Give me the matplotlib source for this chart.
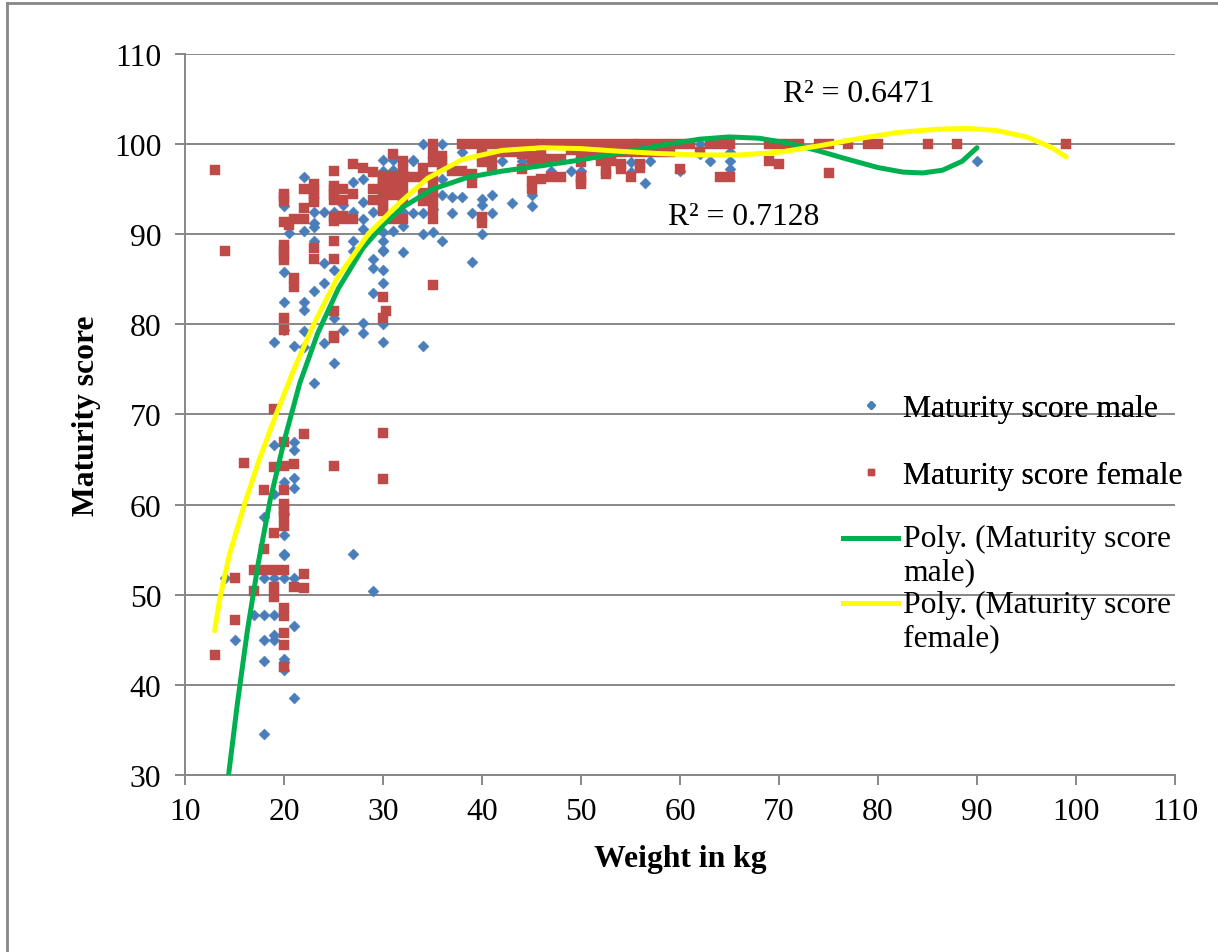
import numpy as np
import matplotlib
matplotlib.use("Agg")
import matplotlib.pyplot as plt
from matplotlib.lines import Line2D
from matplotlib.legend_handler import HandlerLine2D

plt.rcParams['font.family'] = ['Liberation Serif', 'DejaVu Serif']

# Maturity score male (weight kg, score)
male_x = [23, 19, 19, 19, 19, 19, 19, 21, 21, 21, 21, 21, 21, 21, 20, 20, 20, 20, 20, 20, 20, 20, 20,
          18, 18, 18, 18, 18, 18, 14, 15, 17, 27, 29,
          19, 20, 20, 20, 20, 20.5, 21, 22, 22, 22, 22, 22, 22, 23, 23, 23, 23, 23, 24, 24, 24, 24,
          25, 25, 25, 25, 26, 26, 27, 27, 27, 27, 28, 28, 28, 28, 28, 28, 29, 29, 29, 29,
          30, 30, 30, 30, 30, 30, 30, 30, 30, 30, 31, 31, 31, 32, 32, 33, 34,
          32, 32, 33, 33, 34, 34, 34, 35, 35, 36, 36, 36, 36, 37, 37, 38, 38, 39, 39, 40, 40, 40,
          41, 41, 42, 43, 44, 45, 45, 47, 49, 50, 55, 55, 56.5, 57, 60, 62, 62, 63, 65, 65, 65, 90]
male_y = [73.5, 66.6, 61.2, 51.9, 47.7, 45.5, 45.0, 67.0, 66.1, 63.0, 61.9, 51.9, 46.5, 38.5,
          62.5, 59.0, 56.6, 54.5, 54.4, 51.9, 42.9, 42.5, 41.6,
          58.6, 51.9, 47.7, 45.0, 42.6, 34.6, 51.9, 45.0, 47.7, 54.5, 50.4,
          78.0, 93.1, 85.8, 82.5, 79.4, 90.1, 77.6, 96.4, 90.4, 82.5, 81.6, 79.3, 77.5,
          92.5, 91.2, 90.8, 89.3, 83.7, 92.5, 86.8, 84.6, 77.9, 92.5, 86.0, 80.7, 75.7, 93.2, 79.4,
          95.8, 92.5, 89.3, 88.1, 96.1, 93.6, 91.7, 90.6, 80.1, 79.0, 92.5, 87.2, 86.2, 83.5,
          98.2, 97.0, 90.3, 89.2, 88.2, 88.1, 86.0, 84.6, 80.0, 78.0, 98.2, 97.1, 90.4, 88.0, 92.5,
          98.2, 77.6,
          96.9, 90.9, 98.1, 92.4, 100.0, 92.4, 90.0, 92.8, 90.2, 100.0, 96.1, 94.4, 89.3, 94.1, 92.4,
          99.1, 94.1, 92.4, 86.9, 93.9, 93.3, 90.0, 94.3, 92.4, 98.1, 93.5, 98.1, 94.3, 93.1, 97.0,
          97.0, 97.0, 98.0, 96.9, 95.7, 98.1, 97.0, 100.0, 98.9, 98.1, 99.1, 98.1, 97.2, 98.1]

# Maturity score female (weight kg, score)
female_x = [19, 22, 30, 30, 20, 20, 20, 20, 20, 20, 20, 20, 20, 20, 20, 20, 20, 20,
            16, 19, 19, 19, 19, 19, 21, 21, 18, 18, 18, 17, 17, 15, 15, 13, 22, 22, 25,
            13, 14, 20, 20, 20, 20, 20.5, 20, 20, 20, 20, 20, 20, 21, 21, 21, 22, 22, 22,
            23, 23, 23, 23, 23, 23, 23, 25, 25, 25, 25, 25, 25, 25, 25, 25, 25, 25, 25,
            26, 26, 26, 26, 27, 27, 27, 28, 29, 29, 29,
            30, 30, 30, 30, 30, 30, 30, 30, 30, 30, 30.3, 30, 31, 31, 31, 31, 31, 31, 31,
            32, 32, 32, 32, 32, 32, 32, 33, 34, 34, 34, 34,
            35, 35, 35, 35, 35, 35, 35, 35, 35, 35, 36, 36, 36, 37, 38, 38, 39, 39, 39,
            40, 40, 40, 40, 40, 40, 41, 41, 41, 42, 42, 43, 43, 44, 44, 44,
            45, 45, 45, 45, 45, 46, 46, 46, 46, 46, 47, 47, 47, 48, 48, 48, 49, 49,
            50, 50, 50, 50, 50, 50, 50, 51, 51, 52, 52, 52, 52, 52.5, 52.5, 53, 53, 53, 53,
            54, 54, 54, 54, 55, 55, 55, 56, 56, 56, 56, 57, 57, 58, 58, 59, 59, 60, 60, 61, 62,
            63, 64, 64, 65, 65, 69, 69, 70, 70, 71, 72, 74, 75, 75, 77, 79, 80, 85, 88, 99]
female_y = [70.6, 67.8, 68.0, 62.8, 67.0, 64.3, 61.6, 60.1, 59.5, 59.2, 58.6, 57.6, 52.7, 48.5,
            47.6, 45.8, 44.4, 42.0, 64.6, 64.2, 56.9, 52.7, 50.9, 49.7, 64.5, 50.9, 61.6, 55.1,
            52.7, 52.7, 50.4, 51.9, 47.2, 43.3, 52.3, 50.7, 64.3,
            97.1, 88.1, 94.5, 94.1, 93.7, 91.4, 91.0, 88.8, 88.2, 87.7, 87.1, 80.7, 79.4,
            91.7, 85.1, 84.1, 95.0, 92.9, 91.7,
            95.6, 95.0, 94.5, 93.9, 93.6, 88.5, 87.2,
            97.0, 95.4, 94.9, 94.3, 93.8, 91.9, 91.5, 89.3, 87.2, 81.5, 78.7, 78.5,
            95.0, 93.8, 92.0, 91.7, 97.8, 94.5, 91.7, 97.4, 96.9, 95.0, 93.8,
            96.5, 96.1, 95.8, 95.2, 94.7, 94.3, 93.8, 93.2, 92.6, 83.0, 81.5, 80.7,
            98.9, 96.5, 96.1, 95.2, 94.7, 94.3, 91.7,
            98.1, 97.2, 96.3, 95.7, 94.6, 93.7, 91.7, 96.3, 97.4, 96.3, 94.6, 93.7,
            100.0, 98.9, 98.0, 96.3, 95.6, 94.7, 93.8, 92.8, 91.7, 84.4, 98.7, 98.1, 97.6, 97.0,
            100.0, 97.0, 100.0, 96.7, 95.7,
            100.0, 99.4, 98.7, 98.0, 91.9, 91.3, 100.0, 98.7, 97.6, 100.0, 99.1, 100.0, 99.1,
            100.0, 98.9, 97.2,
            100.0, 98.7, 98.0, 95.9, 95.0, 100.0, 99.1, 98.5, 98.0, 96.1, 100.0, 98.3, 96.3,
            100.0, 98.3, 96.3, 100.0, 99.4,
            100.0, 99.4, 98.7, 98.0, 96.3, 95.9, 95.6, 100.0, 99.1, 100.0, 99.1, 98.7, 98.1,
            97.0, 96.7, 100.0, 99.1, 98.7, 98.1,
            100.0, 99.1, 97.8, 97.2, 100.0, 99.1, 96.3, 100.0, 99.1, 97.8, 97.4, 100.0, 99.1,
            100.0, 99.1, 100.0, 99.1, 100.0, 97.2, 100.0, 99.1,
            100.0, 100.0, 96.3, 100.0, 96.3, 100.0, 98.1, 100.0, 97.8, 100.0, 100.0, 100.0,
            100.0, 96.8, 100.0, 100.0, 100.0, 100.0, 100.0, 100.0]

# polynomial trendlines (Excel "Poly.")
poly_male_x = [14.4, 15.3, 16.3, 17.4, 18.6, 20.0, 21.6, 23.4, 25.5, 28.0, 30.0, 32.0, 35.0,
               38.5, 42.0, 46.0, 50.0, 55.0, 58.5, 62.0, 65.0, 68.0, 71.0, 74.0, 77.0, 80.0,
               82.5, 84.5, 86.5, 88.5, 90.0]
poly_male_y = [30.0, 38.0, 46.0, 53.5, 60.5, 67.0, 73.5, 79.0, 84.0, 88.5, 91.0, 93.0, 95.0,
               96.3, 97.0, 97.6, 98.25, 99.25, 99.95, 100.55, 100.8, 100.65, 100.1, 99.25,
               98.3, 97.4, 96.9, 96.8, 97.1, 98.1, 99.6]
poly_female_x = [13.0, 13.5, 14.5, 16.0, 17.5, 19.2, 21.0, 23.0, 25.3, 28.5, 31.5, 34.5, 38.0,
                 42.0, 46.0, 50.0, 54.0, 58.0, 62.0, 66.0, 70.0, 74.0, 78.0, 82.0, 86.0, 89.0,
                 92.0, 95.0, 97.4, 99.0]
poly_female_y = [46.0, 49.5, 54.5, 60.0, 65.0, 70.0, 75.0, 80.0, 85.0, 90.0, 93.3, 96.2, 98.3,
                 99.3, 99.6, 99.5, 99.2, 98.95, 98.8, 98.8, 99.1, 99.8, 100.6, 101.3, 101.65,
                 101.75, 101.5, 100.8, 99.7, 98.6]

r2_male = 0.7128
r2_female = 0.6471

blue = '#4A7EBB'
red = '#BE4B48'
green = '#00B050'
yellow = '#FFFF00'
grey = '#878787'
fs = 22.8


class HandlerFirstLine(HandlerLine2D):
    # put the line sample next to the first line of a two-line label
    def create_artists(self, legend, orig_handle, xdescent, ydescent, width, height,
                       fontsize, trans):
        arts = super().create_artists(legend, orig_handle, xdescent, ydescent, width, height,
                                      fontsize, trans)
        for a in arts:
            a.set_ydata(np.asarray(a.get_ydata()) + 0.55 * fontsize)
        return arts


fig = plt.figure(figsize=(12.18, 9.53), dpi=100)
ax = fig.add_axes([185 / 1218, 1 - 776 / 953, 990 / 1218, 721 / 953])

ax.scatter(male_x, male_y, marker='D', s=32, color=blue, edgecolors=blue, linewidths=0.3, zorder=3)
ax.scatter(female_x, female_y, marker='s', s=42, color=red, edgecolors=red, linewidths=0.3, zorder=4)
ax.plot(poly_male_x, poly_male_y, color=green, lw=3.6, solid_capstyle='round',
        solid_joinstyle='round', zorder=5)
ax.plot(poly_female_x, poly_female_y, color=yellow, lw=3.6, solid_capstyle='round',
        solid_joinstyle='round', zorder=6)

ax.text(58.8, 92.0, f'R\u00b2 = {r2_male:.4f}', fontsize=fs, va='center', ha='left')
ax.text(70.4, 105.6, f'R\u00b2 = {r2_female:.4f}', fontsize=fs, va='center', ha='left')

ax.set_xlim(10, 110)
ax.set_ylim(30, 110)
ax.set_xticks(np.arange(10, 111, 10))
ax.set_yticks(np.arange(30, 111, 10))
ax.yaxis.grid(True, color=grey, lw=1.4)
ax.set_axisbelow(True)
for s in ['top', 'right']:
    ax.spines[s].set_visible(False)
for s in ['left', 'bottom']:
    ax.spines[s].set_color(grey)
    ax.spines[s].set_linewidth(1.4)
ax.tick_params(axis='both', labelsize=fs, color=grey, width=1.4, length=7)
ax.tick_params(axis='y', pad=10)
ax.tick_params(axis='x', pad=9)

ax.set_xlabel('Weight in kg', fontsize=fs, fontweight='bold', labelpad=13)
ax.set_ylabel('Maturity score', fontsize=fs, fontweight='bold', labelpad=9)

# legend, split in two like the original layout
h1 = [Line2D([], [], ls='none', marker='D', ms=4, color=blue),
      Line2D([], [], ls='none', marker='s', ms=5, color=red)]
leg1 = fig.legend(h1, ['Maturity score male', 'Maturity score female'], loc='upper left',
                  bbox_to_anchor=(843 / 1218, 1 - 395 / 953), frameon=False, fontsize=fs,
                  handlelength=1.74, handletextpad=0.16, borderpad=0, borderaxespad=0,
                  labelspacing=1.19)
h2 = [Line2D([], [], color=green, lw=3.6), Line2D([], [], color=yellow, lw=3.6)]
leg2 = fig.legend(h2, ['Poly. (Maturity score\nmale)', 'Poly. (Maturity score\nfemale)'],
                  loc='upper left', bbox_to_anchor=(843 / 1218, 1 - 525 / 953), frameon=False,
                  fontsize=fs, handlelength=1.74, handletextpad=0.16, borderpad=0,
                  borderaxespad=0, labelspacing=0.1,
                  handler_map={Line2D: HandlerFirstLine()})
fig.add_artist(leg1)

# outer chart frame (top and left edges)
fig.add_artist(Line2D([7 / 1218, 1], [1 - 4 / 953, 1 - 4 / 953], color=grey, lw=2))
fig.add_artist(Line2D([7 / 1218, 7 / 1218], [0, 1 - 4 / 953], color=grey, lw=2))

fig.savefig('out.png', dpi=100)
